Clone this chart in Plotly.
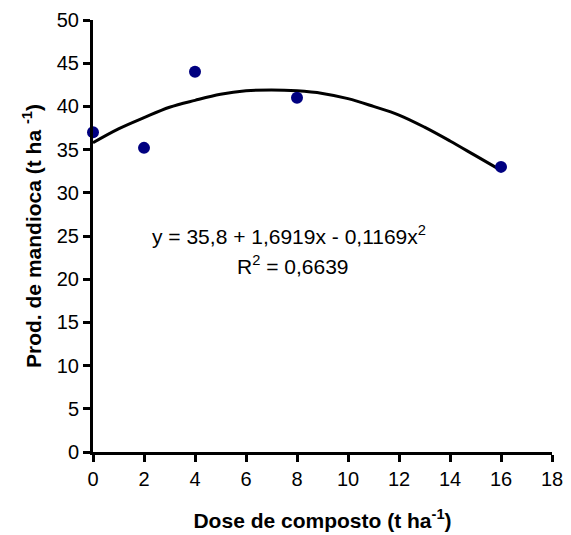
import plotly.graph_objects as go

dose = [0, 2, 4, 8, 16]
prod = [37.0, 35.2, 44.0, 41.0, 33.0]

curve_x = [0, 1, 2, 3, 4, 5, 6, 7, 8, 9, 10, 11, 12, 13, 14, 15, 16]
curve_y = [35.8, 37.4, 38.7, 39.9, 40.7, 41.4, 41.8, 41.9, 41.8, 41.5,
           40.9, 40.0, 39.0, 37.6, 36.0, 34.3, 32.6]

x_ticks = [0, 2, 4, 6, 8, 10, 12, 14, 16, 18]
y_ticks = [0, 5, 10, 15, 20, 25, 30, 35, 40, 45, 50]

FONT = "Liberation Sans, Arial, sans-serif"

fig = go.Figure()
fig.add_trace(go.Scatter(x=curve_x, y=curve_y, mode="lines",
                         line=dict(color="black", width=3, shape="spline"),
                         showlegend=False, hoverinfo="skip"))
fig.add_trace(go.Scatter(x=dose, y=prod, mode="markers",
                         marker=dict(color="#000080", size=12),
                         showlegend=False, cliponaxis=False))

fig.add_annotation(x=7.7, y=25.1, xref="x", yref="y",
                   text="y = 35,8 + 1,6919x - 0,1169x<sup>2</sup>",
                   showarrow=False, font=dict(family=FONT, size=21, color="black"))
fig.add_annotation(x=7.85, y=21.6, xref="x", yref="y",
                   text="R<sup>2</sup> = 0,6639",
                   showarrow=False, font=dict(family=FONT, size=21, color="black"))

fig.update_xaxes(range=[0, 18], tickvals=x_ticks, ticktext=[str(v) for v in x_ticks],
                 automargin=False,
                 showgrid=False, zeroline=False, showline=True, linecolor="black",
                 linewidth=3, ticks="outside", ticklen=7, tickwidth=3, tickcolor="black",
                 tickfont=dict(family=FONT, size=20, color="black"),
                 title=dict(text="<b>Dose de composto (t ha<sup>-1</sup>)</b>",
                            font=dict(family=FONT, size=21, color="black"), standoff=25))
fig.update_yaxes(range=[0, 50], tickvals=y_ticks, ticktext=[str(v) for v in y_ticks],
                 automargin=False,
                 showgrid=False, zeroline=False, showline=True, linecolor="black",
                 linewidth=3, ticks="outside", ticklen=7, tickwidth=3, tickcolor="black",
                 tickfont=dict(family=FONT, size=20, color="black"),
                 title=dict(text="<b>Prod. de mandioca (t ha <sup>-1</sup>)</b>",
                            font=dict(family=FONT, size=21, color="black"), standoff=10))

fig.update_layout(width=563, height=527, plot_bgcolor="white", paper_bgcolor="white",
                  margin=dict(l=85, r=19, t=12, b=83))

fig.write_html("out.html")
